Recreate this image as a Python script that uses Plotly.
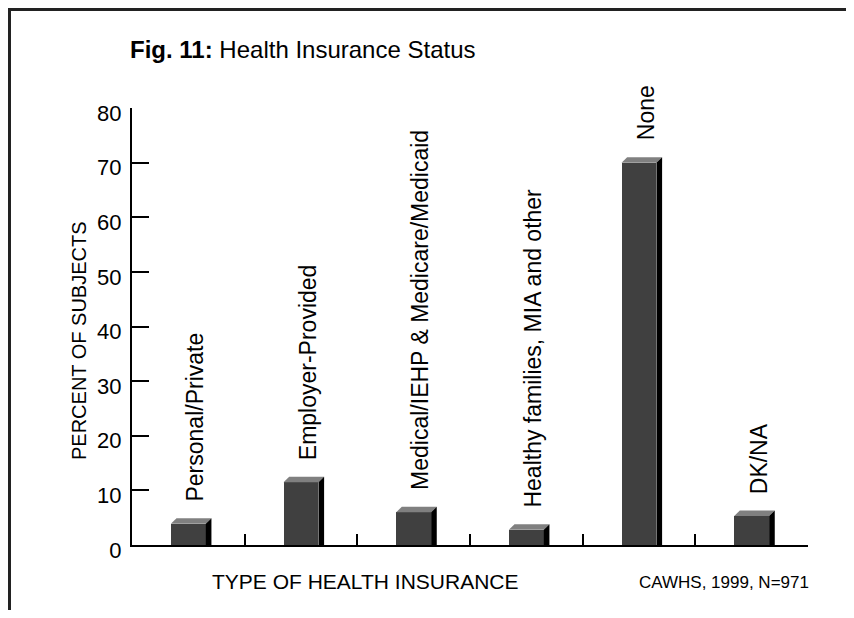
import plotly.graph_objects as go

# Data (CAWHS, 1999, N=971)
categories = [
    "Personal/Private",
    "Employer-Provided",
    "Medical/IEHP & Medicare/Medicaid",
    "Healthy families, MIA and other",
    "None",
    "DK/NA",
]
percent_of_subjects = [3.9, 11.5, 6.0, 2.8, 70.0, 5.3]
y_ticks = [0, 10, 20, 30, 40, 50, 60, 70, 80]

FONT = "Liberation Sans"
OFF = 8  # the page body has an 8px margin, so the figure sits 8px in
W, H = 854 - 2 * OFF, 618 - 2 * OFF
L, R, T, B = 124, 38, 100, 65
PW, PH = W - L - R, H - T - B

BAR_W = 0.31
DX = 0.05  # depth of the 3D effect, x units
DY = 1.0   # depth of the 3D effect, y units

x_pos = list(range(len(categories)))


def page_x(px):
    # page pixel -> paper fraction
    return (px - OFF - L) / PW


def page_y(py):
    return (H - B - (py - OFF)) / PH


fig = go.Figure()

# Front faces of the bars
fig.add_trace(
    go.Bar(
        x=x_pos,
        y=percent_of_subjects,
        width=BAR_W,
        marker=dict(color="#404040", line=dict(width=0)),
        hovertext=categories,
        showlegend=False,
    )
)

shapes = []
annotations = []
for x, v, label in zip(x_pos, percent_of_subjects, categories):
    left, right = x - BAR_W / 2, x + BAR_W / 2
    # top face
    shapes.append(
        dict(
            type="path",
            xref="x",
            yref="y",
            path=f"M {left},{v} L {right},{v} L {right + DX},{v + DY} L {left + DX},{v + DY} Z",
            fillcolor="#808080",
            line=dict(width=0),
        )
    )
    # side face
    shapes.append(
        dict(
            type="path",
            xref="x",
            yref="y",
            path=f"M {right},0 L {right},{v} L {right + DX},{v + DY} L {right + DX},0 Z",
            fillcolor="#000000",
            line=dict(width=0),
        )
    )
    annotations.append(
        dict(
            x=x,
            y=v,
            xref="x",
            yref="y",
            text=label,
            textangle=-90,
            showarrow=False,
            xanchor="center",
            yanchor="bottom",
            yshift=20,
            xshift=7,
            font=dict(family=FONT, size=23, color="black"),
        )
    )

# frame (top and left edges only)
shapes.append(
    dict(
        type="path",
        xref="paper",
        yref="paper",
        path=(
            f"M {page_x(9.5)},{page_y(640)} "
            f"L {page_x(9.5)},{page_y(9.5)} "
            f"L {page_x(880)},{page_y(9.5)}"
        ),
        line=dict(color="#222222", width=3),
    )
)

annotations += [
    dict(
        xref="paper",
        yref="paper",
        x=page_x(128),
        y=page_y(50),
        text="<b>Fig. 11:</b> Health Insurance Status",
        showarrow=False,
        xanchor="left",
        yanchor="middle",
        font=dict(family=FONT, size=24, color="black"),
    ),
    dict(
        xref="paper",
        yref="paper",
        x=page_x(79),
        y=page_y(341),
        text="PERCENT OF SUBJECTS",
        textangle=-90,
        showarrow=False,
        xanchor="center",
        yanchor="middle",
        font=dict(family=FONT, size=20, color="black"),
    ),
    dict(
        xref="paper",
        yref="paper",
        x=page_x(365),
        y=page_y(581),
        text="TYPE OF HEALTH INSURANCE",
        showarrow=False,
        xanchor="center",
        yanchor="middle",
        font=dict(family=FONT, size=21, color="black"),
    ),
    dict(
        xref="paper",
        yref="paper",
        x=page_x(811),
        y=page_y(582),
        text="CAWHS, 1999, N=971",
        showarrow=False,
        xanchor="right",
        yanchor="middle",
        font=dict(family=FONT, size=17, color="black"),
    ),
]

fig.update_xaxes(
    range=[-0.5, 5.5],
    showline=True,
    linecolor="black",
    linewidth=2,
    tickvals=[0.5, 1.5, 2.5, 3.5, 4.5, 5.5],
    ticks="inside",
    ticklen=11,
    tickwidth=2,
    tickcolor="black",
    showticklabels=False,
    showgrid=False,
    zeroline=False,
    fixedrange=True,
)
fig.update_yaxes(
    range=[0, 80],
    showline=True,
    linecolor="black",
    linewidth=2,
    tickvals=y_ticks,
    ticks="inside",
    ticklen=17,
    tickwidth=2,
    tickcolor="black",
    tickfont=dict(family=FONT, size=22, color="black"),
    ticklabelstandoff=4,
    ticklabelshift=5,
    showgrid=False,
    zeroline=False,
    fixedrange=True,
)
fig.update_layout(
    width=W,
    height=H,
    margin=dict(l=L, r=R, t=T, b=B),
    plot_bgcolor="white",
    paper_bgcolor="white",
    shapes=shapes,
    annotations=annotations,
    bargap=0,
)

fig.write_html("out.html")
